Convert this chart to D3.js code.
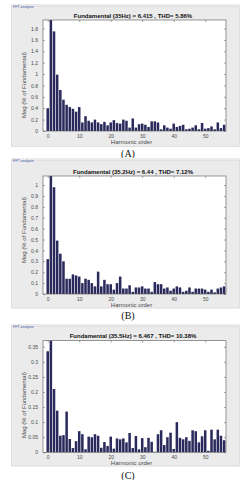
<!DOCTYPE html>
<html>
<head>
<meta charset="utf-8">
<script src="https://cdn.jsdelivr.net/npm/d3@7"></script>
<style>
body { margin: 0; background: #fff; }
svg { display: block; }
text { font-family: "Liberation Sans", Arial, sans-serif; }
</style>
</head>
<body>
<script>

// harmonic magnitudes (% of fundamental), order 0..56
// order 1 is the fundamental itself (100%), clipped by the axes
var magA = [0.40, 100, 1.75, 0.99, 0.72, 0.55, 0.46, 0.42, 0.39, 0.34,
            0.42, 0.15, 0.26, 0.18, 0.15, 0.20, 0.15, 0.12, 0.16, 0.10,
            0.15, 0.19, 0.14, 0.13, 0.20, 0.18, 0.06, 0.22, 0.06, 0.12,
            0.13, 0.11, 0.07, 0.17, 0.17, 0.15, 0.03, 0.10, 0.06, 0.04,
            0.13, 0.07, 0.09, 0.11, 0.03, 0.04, 0.06, 0.10, 0.03, 0.14,
            0.04, 0.05, 0.08, 0.03, 0.15, 0.05, 0.11];
var magB = [0.32, 100, 0.98, 0.49, 0.37, 0.30, 0.14, 0.14, 0.18, 0.17,
            0.16, 0.10, 0.14, 0.13, 0.10, 0.07, 0.205, 0.07, 0.13, 0.09,
            0.09, 0.04, 0.10, 0.16, 0.05, 0.05, 0.08, 0.02, 0.06, 0.06,
            0.07, 0.05, 0.05, 0.02, 0.11, 0.09, 0.09, 0.05, 0.06, 0.03,
            0.05, 0.07, 0.06, 0.02, 0.03, 0.06, 0.02, 0.05, 0.05, 0.05,
            0.04, 0.02, 0.04, 0.015, 0.05, 0.06, 0.07];
var magC = [0.335, 100, 0.21, 0.138, 0.055, 0.057, 0.135, 0.044, 0.014, 0.037,
            0.07, 0.06, 0.01, 0.052, 0.05, 0.06, 0.055, 0.015, 0.034, 0.021,
            0.052, 0.012, 0.046, 0.043, 0.046, 0.033, 0.064, 0.014, 0.054, 0.01,
            0.047, 0.017, 0.048, 0.035, 0.002, 0.06, 0.073, 0.024, 0.05, 0.065,
            0.011, 0.10, 0.048, 0.043, 0.05, 0.038, 0.073, 0.07, 0.033, 0.053,
            0.073, 0.005, 0.075, 0.043, 0.075, 0.055, 0.04];

var titles = ['Fundamental (35Hz) = 6.415 , THD= 5.86%',
              'Fundamental (35.2Hz) = 6.44 , THD= 7.12%',
              'Fundamental (35.5Hz) = 6.467 , THD= 10.38%'];
var letters = ['(A)', '(B)', '(C)'];

var xTicks = [0, 10, 20, 30, 40, 50];
var yTicksA = [0, 0.2, 0.4, 0.6, 0.8, 1, 1.2, 1.4, 1.6, 1.8];
var yTicksB = [0, 0.1, 0.2, 0.3, 0.4, 0.5, 0.6, 0.7, 0.8, 0.9, 1];
var yTicksC = [0, 0.05, 0.1, 0.15, 0.2, 0.25, 0.3, 0.35];

var panels = [
  {mag: magA, yMax: 1.95, yTicks: yTicksA, boxTop: 4,   boxBottom: 147, plotTop: 20,    plotBottom: 131,   yLabelY: 85,  letterY: 156.5},
  {mag: magB, yMax: 1.083, yTicks: yTicksB, boxTop: 158, boxBottom: 308.5, plotTop: 176, plotBottom: 294,  yLabelY: 230, letterY: 318.5},
  {mag: magC, yMax: 0.37, yTicks: yTicksC, boxTop: 324, boxBottom: 466.5, plotTop: 340.7, plotBottom: 452.3, yLabelY: 405, letterY: 478.5}
];

var barColor = '#2a2a5c';

var svg = d3.select('body').append('svg')
  .attr('width', 251)
  .attr('height', 480);

var x = d3.scaleLinear().domain([-1.5, 56.6]).range([43, 226]);

panels.forEach(function(p, k) {
  var g = svg.append('g');

  // figure background + group box
  g.append('rect')
    .attr('x', 11).attr('y', p.boxTop)
    .attr('width', 229).attr('height', p.boxBottom - p.boxTop)
    .attr('fill', '#ebebeb');
  g.append('rect')
    .attr('x', 11.5).attr('y', p.boxTop + 2.5)
    .attr('width', 228).attr('height', p.boxBottom - p.boxTop - 3)
    .attr('fill', 'none').attr('stroke', '#d8d8d8').attr('stroke-width', 0.6);
  g.append('rect')
    .attr('x', 12.5).attr('y', p.boxTop).attr('width', 15).attr('height', 4)
    .attr('fill', '#ebebeb');
  g.append('text')
    .attr('x', 13).attr('y', p.boxTop + 3.6)
    .attr('font-size', 3.6)
    .attr('fill', '#3a55a8')
    .text('FFT analysis');

  var y = d3.scaleLinear().domain([0, p.yMax]).range([p.plotBottom, p.plotTop]);

  g.append('rect')
    .attr('x', 43).attr('y', p.plotTop)
    .attr('width', 183).attr('height', p.plotBottom - p.plotTop)
    .attr('fill', '#fff');

  var clipId = 'clip' + k;
  g.append('clipPath').attr('id', clipId)
    .append('rect')
    .attr('x', 43).attr('y', p.plotTop)
    .attr('width', 183).attr('height', p.plotBottom - p.plotTop);

  var bw = x(0.8) - x(0);
  g.append('g')
    .attr('clip-path', 'url(#' + clipId + ')')
    .selectAll('rect')
    .data(p.mag)
    .enter()
    .append('rect')
    .attr('x', function(d, i) { return x(i) - bw / 2; })
    .attr('y', function(d) { return y(Math.min(d, p.yMax * 1.1)); })
    .attr('width', bw)
    .attr('height', function(d) { return p.plotBottom - y(Math.min(d, p.yMax * 1.1)); })
    .attr('fill', barColor);

  // axes, ticks pointing inward like matlab
  var xb = g.append('g')
    .attr('transform', 'translate(0,' + p.plotBottom + ')')
    .call(d3.axisBottom(x).tickValues(xTicks).tickSize(-2).tickPadding(3));
  var xt = g.append('g')
    .attr('transform', 'translate(0,' + p.plotTop + ')')
    .call(d3.axisTop(x).tickValues(xTicks).tickSize(-2).tickFormat(''));
  var yl = g.append('g')
    .attr('transform', 'translate(43,0)')
    .call(d3.axisLeft(y).tickValues(p.yTicks).tickSize(-2).tickPadding(5).tickFormat(d3.format('')));
  var yr = g.append('g')
    .attr('transform', 'translate(226,0)')
    .call(d3.axisRight(y).tickValues(p.yTicks).tickSize(-2).tickFormat(''));

  [xb, xt, yl, yr].forEach(function(a) {
    a.select('.domain').remove();
    a.selectAll('line').attr('stroke', '#555').attr('stroke-width', 0.5);
    a.selectAll('text')
      .attr('font-size', 5)
      .attr('fill', '#4a4a4a')
      .style('font-family', '"Liberation Sans", Arial, sans-serif');
  });

  g.append('rect')
    .attr('x', 43).attr('y', p.plotTop)
    .attr('width', 183).attr('height', p.plotBottom - p.plotTop)
    .attr('fill', 'none').attr('stroke', '#555').attr('stroke-width', 0.6);

  // labels
  g.append('text')
    .attr('x', 133).attr('y', p.plotTop - 2.3)
    .attr('text-anchor', 'middle')
    .attr('font-size', 6)
    .attr('font-weight', 'bold')
    .attr('fill', '#111')
    .text(titles[k]);

  g.append('text')
    .attr('x', 131.5).attr('y', p.plotBottom + 13)
    .attr('text-anchor', 'middle')
    .attr('font-size', 6)
    .attr('fill', '#4a4a4a')
    .text('Harmonic order');

  g.append('text')
    .attr('transform', 'translate(25.5,' + p.yLabelY + ') rotate(-90)')
    .attr('text-anchor', 'middle')
    .attr('font-size', 6)
    .attr('fill', '#4a4a4a')
    .text('Mag (% of Fundamental)');

  svg.append('text')
    .attr('x', 128).attr('y', p.letterY)
    .attr('text-anchor', 'middle')
    .attr('font-size', 10)
    .attr('fill', '#111')
    .style('font-family', '"Liberation Serif", "Times New Roman", serif')
    .text(letters[k]);
});

</script>
</body>
</html>
